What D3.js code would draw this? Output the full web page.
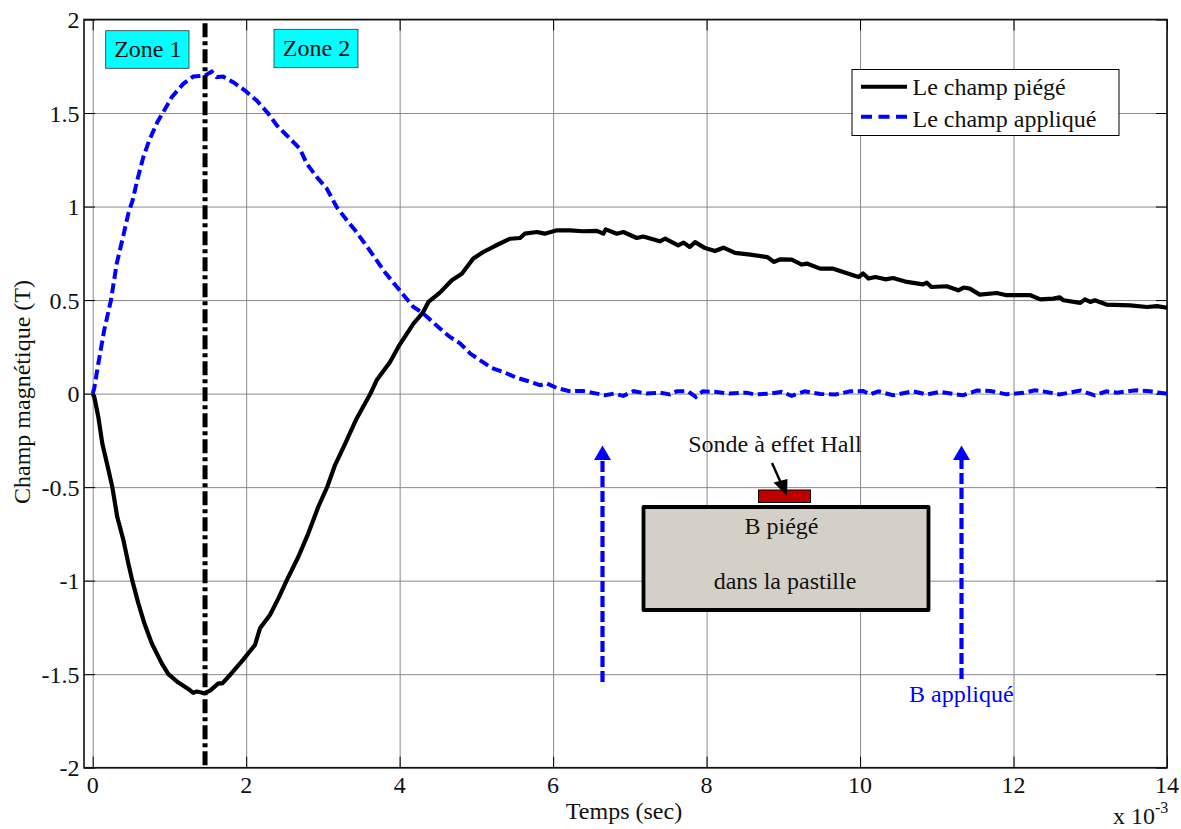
<!DOCTYPE html>
<html lang="fr">
<head>
  <meta charset="UTF-8" />
  <title>Champ piégé et champ appliqué</title>
  <style>
    html, body { margin: 0; padding: 0; background: #fff; }
    svg { display: block; }
    text { font-family: "Liberation Serif", serif; fill: #111; }
    .grid line { stroke: #8a8a8a; stroke-width: 1px; }
    .grid path, .inner path { display: none; }
    .inner line { stroke: #000; stroke-width: 1px; }
    .frame { fill: none; stroke: #111; stroke-width: 1.6px; }
  </style>
</head>
<body>
  <svg width="1181" height="829"></svg>
  <script src="https://d3js.org/d3.v7.min.js"></script>
  <script>
    // temps en ms (axe x 10^-3 s), champ en tesla
    const xTicks = [0, 2, 4, 6, 8, 10, 12, 14];
    const yTicks = [-2, -1.5, -1, -0.5, 0, 0.5, 1, 1.5, 2];
    const zoneLimit = 1.464;

    const tempsPiege = [0, 0.02, 0.073, 0.125, 0.195, 0.256, 0.32, 0.4, 0.464, 0.516, 0.594, 0.673, 0.769, 0.9, 0.986,
      1.116, 1.246, 1.31, 1.355, 1.455, 1.53, 1.637, 1.69, 1.81, 1.94, 2.115, 2.18, 2.31, 2.42, 2.53, 2.68, 2.81, 2.94,
      3.057, 3.158, 3.29, 3.44, 3.62, 3.7, 3.875, 3.995, 4.18, 4.3, 4.375, 4.525, 4.68, 4.81, 4.96, 5.09, 5.24, 5.44,
      5.57, 5.63, 5.79, 5.89, 6.05, 6.22, 6.39, 6.57, 6.655, 6.685, 6.83, 6.915, 7.09, 7.175, 7.39, 7.46, 7.63, 7.7,
      7.78, 7.85, 7.98, 8.11, 8.22, 8.37, 8.57, 8.79, 8.88, 8.96, 9.11, 9.24, 9.305, 9.34, 9.48, 9.65, 9.78, 9.98,
      10.04, 10.11, 10.2, 10.33, 10.43, 10.61, 10.82, 10.87, 10.93, 11.13, 11.28, 11.35, 11.43, 11.56, 11.78, 11.91,
      12.22, 12.35, 12.52, 12.6, 12.65, 12.87, 12.93, 13, 13.06, 13.21, 13.52, 13.74, 13.87, 13.98, 14];
    const champPiege = [0, -0.017, -0.124, -0.267, -0.39, -0.5, -0.66, -0.783, -0.908, -1, -1.12, -1.228, -1.335, -1.442, -1.5,
      -1.545, -1.579, -1.6, -1.593, -1.602, -1.588, -1.549, -1.549, -1.495, -1.433, -1.344, -1.255, -1.184, -1.095, -0.997, -0.872, -0.747, -0.605,
      -0.498, -0.382, -0.267, -0.133, 0, 0.071, 0.169, 0.258, 0.374, 0.431, 0.49, 0.54, 0.606, 0.641, 0.722, 0.757, 0.789, 0.828,
      0.832, 0.855, 0.864, 0.855, 0.873, 0.873, 0.868, 0.87, 0.855, 0.878, 0.855, 0.864, 0.832, 0.84, 0.814, 0.828, 0.793, 0.807,
      0.784, 0.81, 0.778, 0.762, 0.78, 0.752, 0.743, 0.73, 0.704, 0.718, 0.716, 0.69, 0.695, 0.69, 0.668, 0.668, 0.65, 0.623,
      0.642, 0.615, 0.623, 0.611, 0.618, 0.597, 0.584, 0.593, 0.57, 0.574, 0.552, 0.567, 0.561, 0.529, 0.538, 0.526,
      0.526, 0.504, 0.508, 0.515, 0.499, 0.485, 0.504, 0.49, 0.499, 0.476, 0.472, 0.463, 0.468, 0.46, 0.46];

    const tempsApplique = [0, 0.02, 0.073, 0.15, 0.238, 0.313, 0.4, 0.464, 0.52, 0.58, 0.66, 0.737, 0.842, 0.92, 1.03, 1.18, 1.31,
      1.464, 1.55, 1.616, 1.7, 1.83, 1.985, 2.137, 2.29, 2.4, 2.53, 2.7, 2.79, 2.92, 3.05, 3.18, 3.33, 3.42, 3.61, 3.81, 4,
      4.18, 4.3, 4.525, 4.655, 4.79, 4.92, 5.05, 5.2, 5.35, 5.53, 5.68, 5.83, 5.92, 6.05, 6.2, 6.39, 6.57, 6.68, 6.79, 6.915,
      7.05, 7.22, 7.39, 7.52, 7.61, 7.76, 7.86, 7.95, 8.13, 8.3, 8.52, 8.63, 8.83, 8.98, 9.11, 9.28, 9.48, 9.68, 9.87, 10.04,
      10.13, 10.24, 10.43, 10.69, 10.87, 11.04, 11.34, 11.52, 11.7, 11.91, 12.13, 12.28, 12.43, 12.6, 12.87, 13.06, 13.21,
      13.35, 13.6, 13.78, 13.98, 14];
    const champApplique = [0, 0.028, 0.16, 0.339, 0.499, 0.695, 0.846, 0.962, 1.033, 1.14, 1.265, 1.354, 1.451, 1.505, 1.585, 1.656, 1.695,
      1.7, 1.722, 1.692, 1.695, 1.665, 1.62, 1.567, 1.496, 1.434, 1.38, 1.309, 1.229, 1.158, 1.096, 0.997, 0.917, 0.873, 0.766, 0.648, 0.552,
      0.463, 0.431, 0.348, 0.303, 0.268, 0.214, 0.178, 0.137, 0.116, 0.084, 0.066, 0.045, 0.054, 0.03, 0.014, 0.014, 0, -0.009, 0, -0.012,
      0.013, 0, 0.005, -0.005, 0.012, 0.012, -0.018, 0.012, 0.009, 0, 0.005, -0.005, 0, 0.009, -0.012, 0.012, -0.002, -0.005, 0.012, 0.014,
      -0.004, 0.012, -0.009, 0.012, -0.005, 0.009, -0.009, 0.016, 0.014, -0.004, 0.004, 0.018, 0.009, -0.005, 0.016, -0.009, 0.012,
      0.005, 0.018, 0.012, 0, 0];

    const svg = d3.select("svg");
    const plotLeft = 84, plotRight = 1167, plotTop = 19.5, plotBottom = 767.7;
    const fontSize = 24;

    const x = d3.scaleLinear().domain([-0.1134, 14]).range([plotLeft, plotRight]);
    const y = d3.scaleLinear().domain([-2, 2]).range([plotBottom, plotTop]);

    // grille
    svg.append("g").attr("class", "grid")
      .attr("transform", `translate(0,${plotBottom})`)
      .call(d3.axisBottom(x).tickValues(xTicks).tickSize(plotTop - plotBottom).tickFormat(""));
    svg.append("g").attr("class", "grid")
      .attr("transform", `translate(${plotLeft},0)`)
      .call(d3.axisLeft(y).tickValues(yTicks).tickSize(plotLeft - plotRight).tickFormat(""));

    // graduations interieures sur les 4 cotes
    const tickLen = 11;
    svg.append("g").attr("class", "inner")
      .attr("transform", `translate(0,${plotBottom})`)
      .call(d3.axisTop(x).tickValues(xTicks).tickSize(tickLen).tickFormat(""));
    svg.append("g").attr("class", "inner")
      .attr("transform", `translate(0,${plotTop})`)
      .call(d3.axisBottom(x).tickValues(xTicks).tickSize(tickLen).tickFormat(""));
    svg.append("g").attr("class", "inner")
      .attr("transform", `translate(${plotLeft},0)`)
      .call(d3.axisRight(y).tickValues(yTicks).tickSize(tickLen).tickFormat(""));
    svg.append("g").attr("class", "inner")
      .attr("transform", `translate(${plotRight},0)`)
      .call(d3.axisLeft(y).tickValues(yTicks).tickSize(tickLen).tickFormat(""));

    svg.append("rect").attr("class", "frame")
      .attr("x", plotLeft).attr("y", plotTop)
      .attr("width", plotRight - plotLeft).attr("height", plotBottom - plotTop);

    // labels des axes
    svg.append("g").selectAll("text").data(xTicks).join("text")
      .attr("x", d => x(d)).attr("y", 793)
      .attr("text-anchor", "middle").attr("font-size", fontSize)
      .text(d => d);
    svg.append("g").selectAll("text").data(yTicks).join("text")
      .attr("x", 79.5).attr("y", d => y(d) + 8.5)
      .attr("text-anchor", "end").attr("font-size", fontSize)
      .text(d => d);

    svg.append("text").attr("x", 624).attr("y", 819)
      .attr("text-anchor", "middle").attr("font-size", fontSize).text("Temps (sec)");
    svg.append("text").attr("transform", "translate(30,392) rotate(-90)")
      .attr("text-anchor", "middle").attr("font-size", fontSize).text("Champ magnétique (T)");
    const expo = svg.append("text").attr("x", 1113).attr("y", 823.5).attr("font-size", fontSize);
    expo.append("tspan").text("x 10");
    expo.append("tspan").attr("dy", -11).attr("font-size", 16).text("-3");

    // courbes
    const line = d3.line().x(d => x(d[0])).y(d => y(d[1]));

    svg.append("path")
      .attr("d", line(d3.zip(tempsPiege, champPiege)))
      .attr("fill", "none").attr("stroke", "#000")
      .attr("stroke-width", 4.2).attr("stroke-linejoin", "round");
    svg.append("path")
      .attr("d", line(d3.zip(tempsApplique, champApplique)))
      .attr("fill", "none").attr("stroke", "#0000ff")
      .attr("stroke-width", 4).attr("stroke-dasharray", "10 4.6");

    // separation des zones
    svg.append("line")
      .attr("x1", x(zoneLimit)).attr("x2", x(zoneLimit))
      .attr("y1", y(1.98)).attr("y2", y(-2))
      .attr("stroke", "#000").attr("stroke-width", 5)
      .attr("stroke-dasharray", "14 4 4 4");

    // boites Zone 1 / Zone 2
    const zones = [
      { label: "Zone 1", x: 105.7, y: 30.7, w: 83.3, h: 37.6 },
      { label: "Zone 2", x: 274, y: 29.3, w: 84, h: 38.4 }
    ];
    const zone = svg.append("g").selectAll("g").data(zones).join("g");
    zone.append("rect")
      .attr("x", d => d.x).attr("y", d => d.y)
      .attr("width", d => d.w).attr("height", d => d.h)
      .attr("fill", "#00ffff").attr("stroke", "#333").attr("stroke-width", 0.8);
    zone.append("text")
      .attr("x", d => d.x + d.w / 2 + 0.5).attr("y", d => d.y + 26.7)
      .attr("text-anchor", "middle").attr("font-size", fontSize)
      .text(d => d.label);

    // legende
    const legend = svg.append("g");
    legend.append("rect").attr("x", 852).attr("y", 69.5).attr("width", 267).attr("height", 66)
      .attr("fill", "#fff").attr("stroke", "#000").attr("stroke-width", 1);
    legend.append("line").attr("x1", 861).attr("x2", 907).attr("y1", 86.7).attr("y2", 86.7)
      .attr("stroke", "#000").attr("stroke-width", 4);
    legend.append("line").attr("x1", 861).attr("x2", 907).attr("y1", 116.7).attr("y2", 116.7)
      .attr("stroke", "#0000ff").attr("stroke-width", 4).attr("stroke-dasharray", "11 6.5");
    legend.append("text").attr("x", 912.5).attr("y", 95).attr("font-size", fontSize).text("Le champ piégé");
    legend.append("text").attr("x", 912.5).attr("y", 127).attr("font-size", fontSize).text("Le champ appliqué");

    // schema de la pastille
    const schema = svg.append("g");
    schema.append("rect").attr("x", 643.5).attr("y", 507).attr("width", 285).attr("height", 103)
      .attr("fill", "#d4d0c8").attr("stroke", "#000").attr("stroke-width", 3.8)
      .attr("stroke-linejoin", "round");
    schema.append("rect").attr("x", 758.5).attr("y", 490).attr("width", 52).attr("height", 12.5)
      .attr("fill", "#c00000").attr("stroke", "#000").attr("stroke-width", 1);
    schema.append("line").attr("x1", 772).attr("y1", 463).attr("x2", 780.5).attr("y2", 482)
      .attr("stroke", "#000").attr("stroke-width", 2.4);
    schema.append("path").attr("d", "M787,496 L773.5,482.5 L787.5,479 Z").attr("fill", "#000");
    schema.append("text").attr("x", 775).attr("y", 452).attr("text-anchor", "middle")
      .attr("font-size", fontSize).text("Sonde à effet Hall");
    schema.append("text").attr("x", 781.5).attr("y", 534).attr("text-anchor", "middle")
      .attr("font-size", fontSize).text("B piégé");
    schema.append("text").attr("x", 785).attr("y", 589).attr("text-anchor", "middle")
      .attr("font-size", fontSize).text("dans la pastille");

    // fleches du champ applique
    const fleches = [
      { x: 602.5, y1: 682 },
      { x: 961.5, y1: 679 }
    ];
    const fleche = schema.append("g").selectAll("g").data(fleches).join("g");
    fleche.append("line")
      .attr("x1", d => d.x).attr("x2", d => d.x)
      .attr("y1", d => d.y1).attr("y2", 458)
      .attr("stroke", "#0000ff").attr("stroke-width", 4.2)
      .attr("stroke-dasharray", "11 4");
    fleche.append("path")
      .attr("d", d => `M${d.x},445.5 L${d.x + 8.5},460 L${d.x - 8.5},460 Z`)
      .attr("fill", "#0000ff");
    schema.append("text").attr("x", 909).attr("y", 701.5)
      .attr("font-size", fontSize).style("fill", "#0000ff").text("B appliqué");
  </script>
</body>
</html>
